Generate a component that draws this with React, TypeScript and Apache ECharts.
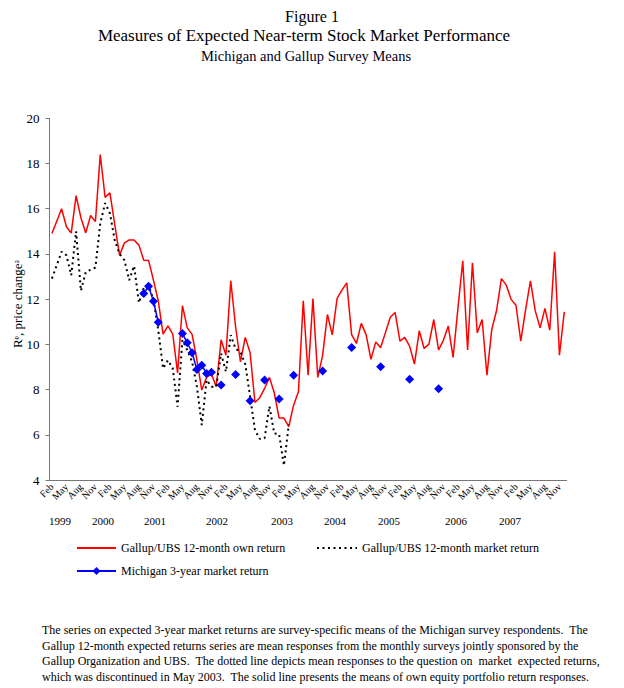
import React, { useEffect, useRef } from "react";
import * as echarts from "echarts";

const FONT = "'Liberation Serif', 'Times New Roman', serif";

const MONTHS = ["Jan", "Feb", "Mar", "Apr", "May", "Jun", "Jul", "Aug", "Sep", "Oct", "Nov", "Dec"];
const START_MONTH = 1; // Feb 1999
const N_MONTHS = 107; // Feb 1999 .. Dec 2007

const YEAR_LABELS = ["1999", "2000", "2001", "2002", "2003", "2004", "2005", "2006", "2007"];

const GALLUP_OWN = [
  14.9, 15.45, 16.0, 15.2, 14.93, 16.58, 15.6, 14.93, 15.7, 15.43,
  18.4, 16.5, 16.7, 15.3, 13.94, 14.49, 14.62, 14.62, 14.39, 13.72,
  13.71, 12.84, 11.93, 10.45, 10.82, 10.45, 8.74, 11.71, 10.73, 10.44,
  9.3, 7.98, 8.54, 8.69, 8.13, 10.2, 9.52, 12.81, 10.78, 9.23,
  10.31, 9.63, 7.43, 7.64, 8.05, 8.54, 7.86, 6.74, 6.74, 6.36,
  7.31, 7.9, 11.93, 8.64, 12.03, 8.54, 9.5, 11.32, 10.42, 12.03,
  12.4, 12.72, 10.43, 10.04, 10.93, 10.43, 9.34, 10.11, 9.85, 10.52,
  11.2, 11.41, 10.14, 10.31, 9.92, 9.13, 10.6, 9.82, 10.01, 11.1,
  9.75, 10.19, 10.81, 9.42, 11.6, 13.7, 9.75, 13.61, 10.51, 11.1,
  8.64, 10.66, 11.51, 12.91, 12.62, 11.99, 11.73, 10.14, 11.54, 12.81,
  11.48, 10.73, 11.59, 10.63, 14.09, 9.52, 11.44,
];

const GALLUP_MARKET = [
  12.91, 13.5, 14.1, 13.94, 13.06, 15.0, 12.37, 13.2, 13.3, 13.4,
  15.35, 16.25, 15.8, 14.6, 14.0, 13.72, 12.84, 13.47, 11.84, 12.5,
  12.6, 12.0, 10.63, 8.94, 9.3, 8.94, 7.24, 10.19, 9.75, 9.23,
  8.13, 6.43, 8.42, 8.13, 8.13, 9.6, 8.79, 10.41, 9.8, 9.67,
  9.12, 7.7, 6.21, 5.82, 5.85, 7.26, 6.06, 6.03, 4.64, 6.45,
];

// Michigan 3-year market return: month index and value
const MICHIGAN_IDX = [19, 20, 21, 22, 27, 28, 29, 30, 31, 32, 33, 35, 38, 41, 44, 47, 50, 56, 62, 68, 74, 80];
const MICHIGAN_VAL = [12.25, 12.57, 11.91, 10.98, 10.48, 10.07, 9.63, 8.89, 9.08, 8.71, 8.77, 8.2, 8.67, 7.51, 8.42, 7.58, 8.63, 8.82, 9.86, 9.01, 8.46, 8.04];

const Y_MIN = 4;
const Y_MAX = 20;
const Y_STEP = 2;

const FOOTNOTE = [
  "The series on expected 3-year market returns are survey-specific means of the Michigan survey respondents.  The",
  "Gallup 12-month expected returns series are mean responses from the monthly surveys jointly sponsored by the",
  "Gallup Organization and UBS.  The dotted line depicts mean responses to the question on  market  expected returns,",
  "which was discontinued in May 2003.  The solid line presents the means of own equity portfolio return responses.",
];

const S_OWN = "Gallup/UBS 12-month own return";
const S_MKT = "Gallup/UBS 12-month market return";
const S_MICH = "Michigan 3-year market return";

export default function App() {
  const ref = useRef<HTMLDivElement>(null);

  useEffect(() => {
    document.body.style.margin = "0";
    if (!ref.current) return;
    const chart = echarts.init(ref.current, null, { renderer: "svg" });

    const categories: string[] = [];
    for (let i = 0; i < N_MONTHS; i++) categories.push(MONTHS[(START_MONTH + i) % 12]);

    const own = categories.map((_, i) => (i < GALLUP_OWN.length ? GALLUP_OWN[i] : null));
    const mkt = categories.map((_, i) => (i < GALLUP_MARKET.length ? GALLUP_MARKET[i] : null));
    const mich: (number | null)[] = categories.map(() => null);
    MICHIGAN_IDX.forEach((idx, k) => (mich[idx] = MICHIGAN_VAL[k]));

    const yearX = [60, 103, 155, 217, 282, 335, 389, 456, 510];

    const graphics: any[] = [
      { type: "text", x: 312, y: 16, style: { text: "Figure 1", font: `16px ${FONT}`, fill: "#000", align: "center", verticalAlign: "middle" } },
      { type: "text", x: 304, y: 35, style: { text: "Measures of Expected Near-term Stock Market Performance", font: `17px ${FONT}`, fill: "#000", align: "center", verticalAlign: "middle" } },
      { type: "text", x: 306, y: 56, style: { text: "Michigan and Gallup Survey Means", font: `14.5px ${FONT}`, fill: "#000022", align: "center", verticalAlign: "middle" } },
      { type: "text", x: 17, y: 304, rotation: Math.PI / 2, style: { text: "R\u1D49, price change\u1D43", font: `13px ${FONT}`, fill: "#000", align: "center", verticalAlign: "middle" } },
    ];
    YEAR_LABELS.forEach((t, i) => {
      graphics.push({ type: "text", x: yearX[i], y: 521, style: { text: t, font: `11px ${FONT}`, fill: "#000", align: "center", verticalAlign: "middle" } });
    });
    FOOTNOTE.forEach((t, i) => {
      graphics.push({ type: "text", x: 42, y: 630 + i * 15.5, style: { text: t, font: `12px ${FONT}`, fill: "#000", align: "left", verticalAlign: "middle" } });
    });

    const legendText = { fontFamily: FONT, fontSize: 12, color: "#000" };

    chart.setOption({
      animation: false,
      textStyle: { fontFamily: FONT },
      grid: { left: 49.5, right: 57.3, top: 118.3, bottom: 208, containLabel: false },
      legend: [
        { data: [S_OWN], left: 76, top: 542, itemWidth: 39, itemHeight: 10, itemStyle: { opacity: 0 }, textStyle: legendText, padding: 0 },
        { data: [S_MKT], left: 316, top: 542, itemWidth: 40, itemHeight: 10, itemStyle: { opacity: 0 }, textStyle: legendText, padding: 0 },
        { data: [S_MICH], left: 76, top: 565, itemWidth: 39, itemHeight: 10, textStyle: legendText, padding: 0 },
      ],
      xAxis: {
        type: "category",
        data: categories,
        boundaryGap: true,
        axisLine: { lineStyle: { color: "#777", width: 1 } },
        axisTick: { interval: 0, length: 3, lineStyle: { color: "#777" } },
        axisLabel: { interval: 2, rotate: 45, fontSize: 10, color: "#000", margin: 5, fontFamily: FONT },
        splitLine: { show: false },
      },
      yAxis: {
        type: "value",
        min: Y_MIN,
        max: Y_MAX,
        interval: Y_STEP,
        axisLine: { show: true, lineStyle: { color: "#777", width: 1 } },
        axisTick: { show: true, length: 4, lineStyle: { color: "#777" } },
        axisLabel: { fontSize: 13, color: "#000", margin: 10, fontFamily: FONT },
        splitLine: { show: false },
      },
      series: [
        {
          name: S_OWN,
          type: "line",
          data: own,
          symbol: "none",
          lineStyle: { color: "#ff0000", width: 1.5 },
          itemStyle: { color: "#ff0000" },
          z: 2,
        },
        {
          name: S_MKT,
          type: "line",
          data: mkt,
          symbol: "none",
          lineStyle: { color: "#000", width: 2, type: [2, 3.5] },
          itemStyle: { color: "#000" },
          z: 3,
        },
        {
          name: S_MICH,
          type: "line",
          data: mich,
          symbol: "diamond",
          symbolSize: 9,
          showSymbol: true,
          showAllSymbol: true,
          connectNulls: false,
          lineStyle: { color: "#0000ff", width: 1.5 },
          itemStyle: { color: "#0000ff" },
          z: 4,
        },
      ],
      graphic: graphics,
    });

    return () => chart.dispose();
  }, []);

  return <div ref={ref} style={{ width: 624, height: 688 }} />;
}
